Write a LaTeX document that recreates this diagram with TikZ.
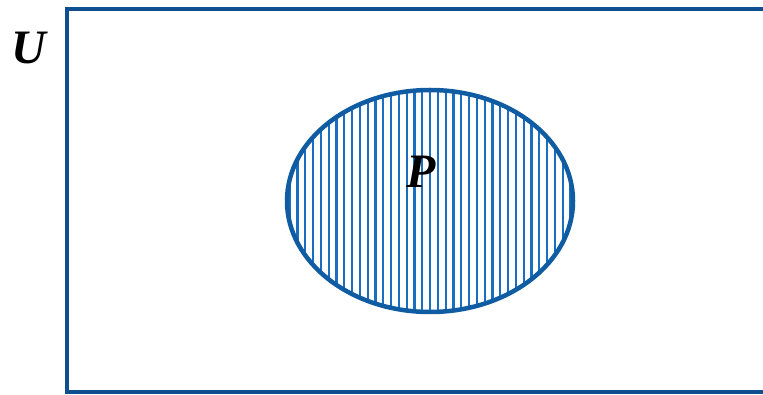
\documentclass[tikz,border=0pt]{standalone}
\usepackage{fontspec}
\setmainfont{Liberation Serif}
\definecolor{rectblue}{HTML}{0E4F8F}
\definecolor{ellblue}{HTML}{0F5CA3}
\definecolor{hatchblue}{HTML}{1A6EC0}
\begin{document}
\begin{tikzpicture}[x=1pt,y=-1pt,
  setlabel/.style={font=\fontsize{48}{48}\selectfont\bfseries\itshape, text=black, inner sep=0pt},
  frame/.style={draw=rectblue, line width=4.5pt},
  setborder/.style={draw=ellblue, line width=4.5pt},
  hatchline/.style={draw=hatchblue, line width=2.3pt}]
  \useasboundingbox (0,0) rectangle (763,395);
  % universe rectangle (extends past the right edge)
  \draw[frame] (790,9) -- (67,9) -- (67,392) -- (790,392);
  % hatch inside P
  \begin{scope}
    \clip (430,201) ellipse [x radius=143, y radius=111];
    \foreach \k in {-14,...,30} {
      \draw[hatchline] ({383.3+7.8*\k},80) -- ({383.3+7.8*\k},320);
    }
  \end{scope}
  \node[draw=none] (P) at (430,201) {};
  \draw[setborder] (430,201) ellipse [x radius=143, y radius=111];
  \node[setlabel] (Plabel) at (421,172) {P};
  \node[setlabel] (Ulabel) at (29,48) {U};
\end{tikzpicture}
\end{document}
